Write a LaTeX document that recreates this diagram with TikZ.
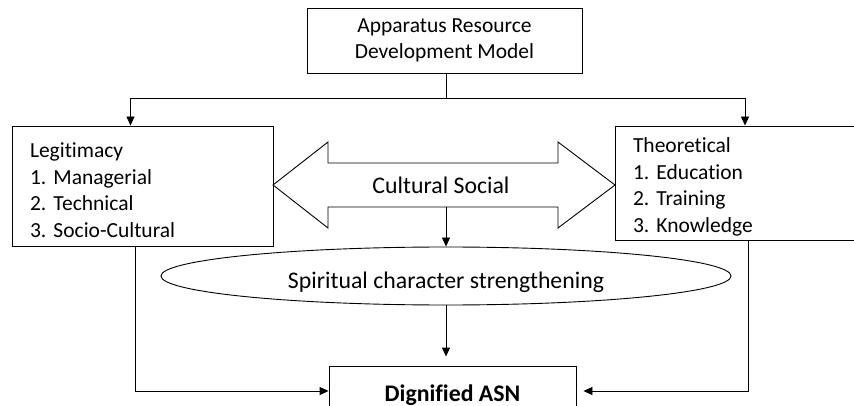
\documentclass[tikz,border=0pt]{standalone}
\usepackage{fontspec}
\setmainfont{Carlito}[Ligatures=NoCommon]
\usetikzlibrary{arrows.meta,shapes.geometric}
\frenchspacing

\begin{document}
\begin{tikzpicture}[x=1pt,y=-1pt,line width=0.9pt,
  >={Triangle[length=9pt,width=8pt]},
  txt/.style={font=\fontsize{21.5}{26.5}\selectfont},
  bigtxt/.style={font=\fontsize{23.8}{28}\selectfont},
  box/.style={draw,txt,inner sep=0pt},
  listbox/.style={box,align=left,inner xsep=18pt,execute at begin node={\rule{0pt}{23pt}}}]
\useasboundingbox (0,0) rectangle (854,406);
\node[box,align=center,minimum width=275pt,minimum height=65pt] (model) at (444.5,40.5) {Apparatus Resource\\Development Model};
\node[listbox,text width=225pt,minimum height=120pt] (legit) at (142.5,186) {Legitimacy\\1. Managerial\\2. Technical\\3. Socio-Cultural};
\node[listbox,text width=214pt,minimum height=114pt] (theo) at (740,183) {Theoretical\\1. Education\\2. Training\\3. Knowledge};
\draw (273,185) -- (328,142) -- (328,163) -- (558,163) -- (558,142) -- (615,185) -- (558,228) -- (558,207) -- (328,207) -- (328,228) -- cycle;
\node[bigtxt] (social) at (441,185) {Cultural Social};
\coordinate (socbot) at (446,207);
\node[draw,ellipse,bigtxt,text height=24pt,text depth=0pt,minimum width=570pt,minimum height=58pt] (spirit) at (446,276) {Spiritual character strengthening};
\node[draw,inner sep=0pt,font=\fontsize{23.8}{28}\selectfont\bfseries,text height=20pt,text depth=0pt,minimum width=247pt,minimum height=50pt] (asn) at (452.5,391) {Dignified ASN};
\coordinate (split) at (446,98);
\draw (model.south -| split) -- (split);
\draw[->] (split) -| ([xshift=-12pt]legit.north);
\draw[->] (split) -| ([xshift=5pt]theo.north);
\draw[->] (socbot) -- (spirit);
\draw[->,shorten >=9pt] (spirit) -- (spirit |- asn.north);
\draw[->] ([xshift=-7.5pt]legit.south) |- (asn.west);
\draw[->,shorten >=7pt] ([xshift=8pt]theo.south) |- (asn.east);
\end{tikzpicture}
\end{document}
